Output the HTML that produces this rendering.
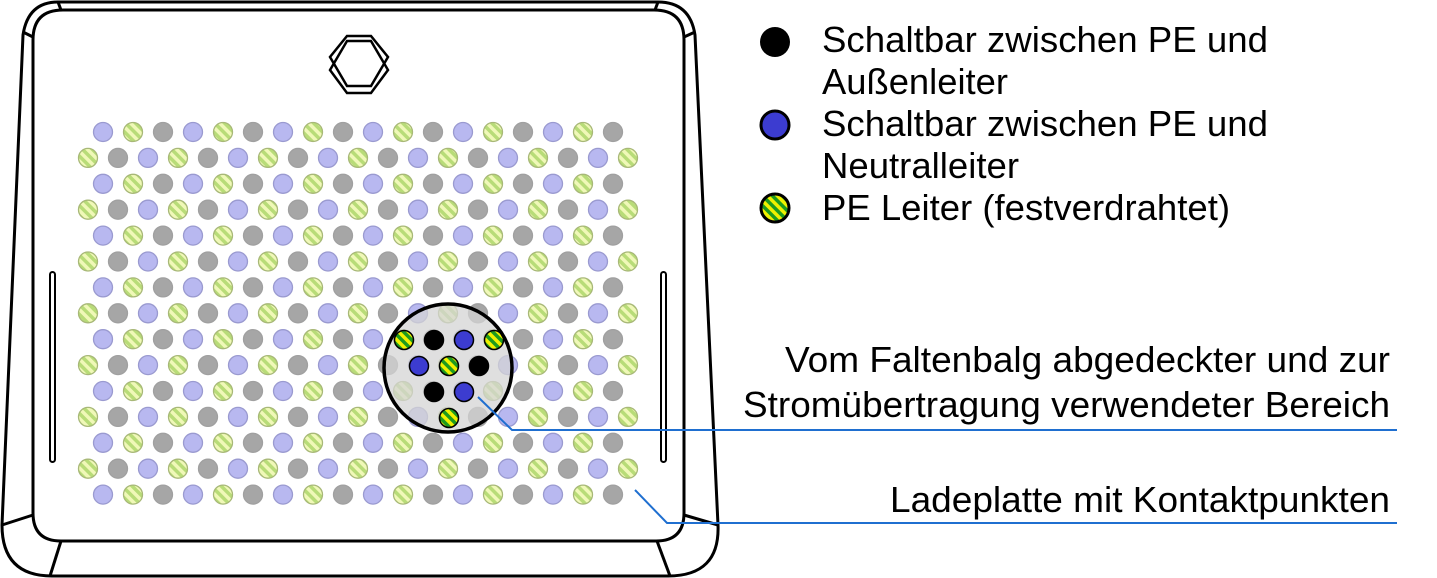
<!DOCTYPE html>
<html><head><meta charset="utf-8"><style>
html,body{margin:0;padding:0;background:#fff;width:1437px;height:578px;overflow:hidden}
text{font-family:"Liberation Sans",Arial,sans-serif;font-size:36px;fill:#000}
</style></head><body>
<svg width="1437" height="578" viewBox="0 0 1437 578" xmlns="http://www.w3.org/2000/svg">
<defs>
<pattern id="lg" patternUnits="userSpaceOnUse" width="7" height="7" patternTransform="rotate(-45)">
<rect width="7" height="7" fill="#f0f8b8"/><rect width="3.5" height="7" fill="#b8dc78"/></pattern>
<pattern id="dg" patternUnits="userSpaceOnUse" width="7" height="7" patternTransform="rotate(-45)">
<rect width="7" height="7" fill="#f0f000"/><rect width="3.5" height="7" fill="#1e9a1e"/></pattern>
</defs>
<g fill="none" stroke="#000" stroke-width="3">
<path d="M58,2 L658,2 Q690,2 695,35 L718,525 Q720,576 668,576 L52,576 Q2,576 2,525 L23,35 Q28,2 58,2 Z" fill="#fff"/>
<path d="M63,10 L654,10 Q684,10 684,40 L684,513 Q684,541 656,541 L61,541 Q33,541 33,513 L33,40 Q33,10 63,10 Z"/>
<line x1="58" y1="2" x2="61" y2="10"/><line x1="658" y1="2" x2="655" y2="10"/>
<line x1="23" y1="32" x2="33" y2="37"/><line x1="695" y1="32" x2="684" y2="37"/>
<line x1="2" y1="525" x2="33" y2="515"/><line x1="718" y1="525" x2="684" y2="515"/>
<line x1="50" y1="576" x2="61" y2="541"/><line x1="670" y1="576" x2="657" y2="541"/>
<rect x="50" y="272" width="5" height="190" rx="2.5" stroke-width="2"/>
<rect x="661" y="272" width="5" height="190" rx="2.5" stroke-width="2"/>
<polygon points="347,36 371,36 388,57 371,86 347,86 330,57" stroke-width="2.5"/>
<polygon points="347,41 371,41 388,70 371,93 347,93 330,70" stroke-width="2.5"/>
</g>
<g id="grid"></g>
<circle cx="448" cy="368" r="64" fill="#d4d4d4" fill-opacity="0.75"/>
<g id="inner" stroke="#000" stroke-width="1.5"></g>
<circle cx="448" cy="368" r="64" fill="none" stroke="#000" stroke-width="3.5"/>
<g fill="none" stroke="#1f6fd0" stroke-width="2">
<polyline points="478,397 512,430 1397,430"/>
<polyline points="635,490 667,523 1397,523"/>
</g>
<circle cx="775" cy="42" r="15" fill="#000"/>
<circle cx="775" cy="125" r="14" fill="#3c3cd0" stroke="#000" stroke-width="3"/>
<circle cx="775" cy="208" r="14" fill="url(#dg)" stroke="#000" stroke-width="3"/>
<text x="822" y="52" textLength="446" lengthAdjust="spacingAndGlyphs">Schaltbar zwischen PE und</text>
<text x="822" y="94" textLength="186" lengthAdjust="spacingAndGlyphs">Außenleiter</text>
<text x="822" y="136" textLength="446" lengthAdjust="spacingAndGlyphs">Schaltbar zwischen PE und</text>
<text x="822" y="178" textLength="197" lengthAdjust="spacingAndGlyphs">Neutralleiter</text>
<text x="822" y="220" textLength="408" lengthAdjust="spacingAndGlyphs">PE Leiter (festverdrahtet)</text>
<text x="785" y="372" textLength="605" lengthAdjust="spacingAndGlyphs">Vom Faltenbalg abgedeckter und zur</text>
<text x="743" y="417" textLength="647" lengthAdjust="spacingAndGlyphs">Stromübertragung verwendeter Bereich</text>
<text x="890" y="512" textLength="500" lengthAdjust="spacingAndGlyphs">Ladeplatte mit Kontaktpunkten</text>
</svg>
<script>
var g=document.getElementById("grid"),s="";
var fills=[["#b8b8f0","#9a9ad0"],["url(#lg)","#a8b878"],["#a6a6a6","#a0a0a0"]];
for(var r=0;r<15;r++){var y=132+r*25.9;var even=r%2==0;var n=even?18:19;var x0=even?103:88;
for(var j=0;j<n;j++){var c=fills[(even?j:j+1)%3];s+='<circle cx="'+(x0+30*j)+'" cy="'+y.toFixed(1)+'" r="9.5" fill="'+c[0]+'" stroke="'+c[1]+'" stroke-width="1.3"/>';}}
g.innerHTML=s;
var inn=[[404,340,"url(#dg)"],[434,340,"#000"],[464,340,"#3c3cd0"],[494,340,"url(#dg)"],[419,366,"#3c3cd0"],[449,366,"url(#dg)"],[479,366,"#000"],[434,392,"#000"],[464,392,"#3c3cd0"],[449,418,"url(#dg)"]];
var t="";inn.forEach(function(d){t+='<circle cx="'+d[0]+'" cy="'+d[1]+'" r="9.5" fill="'+d[2]+'"/>';});
document.getElementById("inner").innerHTML=t;
</script>
</body></html>
